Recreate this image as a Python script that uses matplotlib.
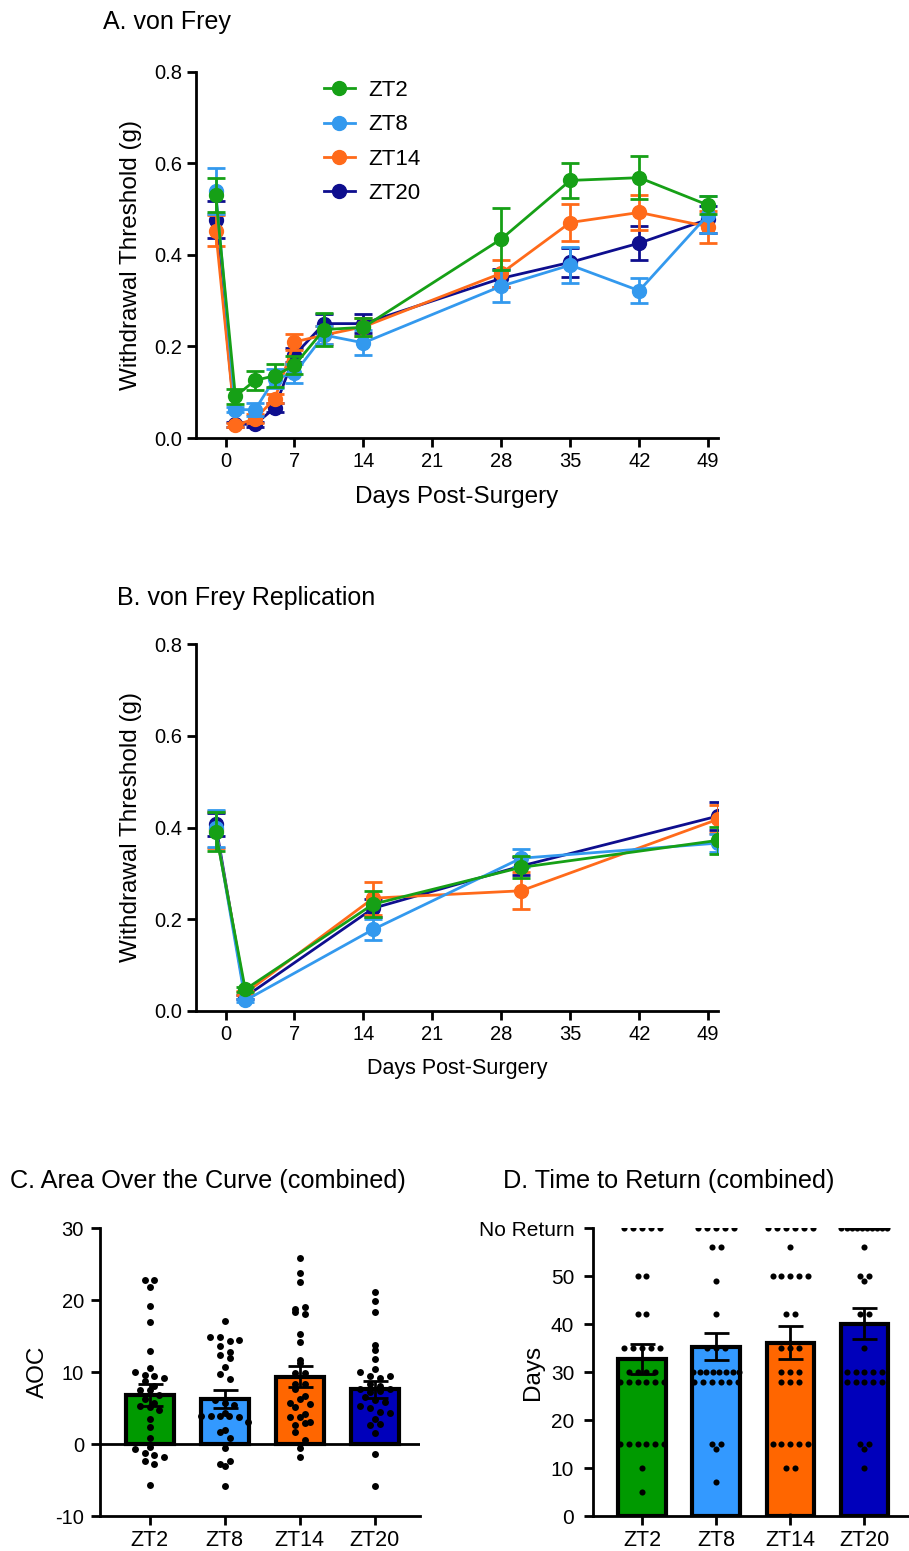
import numpy as np
import matplotlib
matplotlib.use("Agg")
import matplotlib.pyplot as plt

plt.rcParams['font.family'] = ['Liberation Sans', 'DejaVu Sans']
plt.rcParams['axes.unicode_minus'] = False

groups = ['ZT2', 'ZT8', 'ZT14', 'ZT20']
line_colors = ['#16A016', '#3399EE', '#FF6A1A', '#0E0E8E']
bar_colors = ['#009A00', '#3399FF', '#FF6600', '#0000BB']

# A. von Frey (mean, sem)
days_a = [-1, 1, 3, 5, 7, 10, 14, 28, 35, 42, 49]
zt2_a = [0.531, 0.091, 0.126, 0.136, 0.159, 0.237, 0.242, 0.435, 0.563, 0.569, 0.509]
zt2_a_sem = [0.038, 0.016, 0.020, 0.025, 0.020, 0.036, 0.020, 0.068, 0.039, 0.047, 0.020]
zt8_a = [0.540, 0.062, 0.062, 0.130, 0.141, 0.225, 0.208, 0.332, 0.378, 0.322, 0.488]
zt8_a_sem = [0.050, 0.006, 0.015, 0.020, 0.020, 0.020, 0.027, 0.035, 0.040, 0.027, 0.040]
zt14_a = [0.453, 0.028, 0.042, 0.086, 0.210, 0.225, 0.243, 0.360, 0.471, 0.493, 0.462]
zt14_a_sem = [0.034, 0.005, 0.010, 0.010, 0.018, 0.020, 0.020, 0.030, 0.040, 0.038, 0.035]
zt20_a = [0.477, 0.030, 0.030, 0.066, 0.181, 0.250, 0.250, 0.349, 0.384, 0.426, 0.478]
zt20_a_sem = [0.040, 0.005, 0.006, 0.010, 0.015, 0.020, 0.020, 0.020, 0.032, 0.037, 0.030]

# B. von Frey Replication
days_b = [-1, 2, 15, 30, 50]
zt2_b = [0.391, 0.047, 0.233, 0.313, 0.372]
zt2_b_sem = [0.042, 0.005, 0.028, 0.024, 0.030]
zt8_b = [0.398, 0.023, 0.178, 0.333, 0.366]
zt8_b_sem = [0.040, 0.004, 0.023, 0.020, 0.020]
zt14_b = [0.395, 0.039, 0.246, 0.262, 0.418]
zt14_b_sem = [0.040, 0.004, 0.036, 0.040, 0.030]
zt20_b = [0.407, 0.031, 0.224, 0.316, 0.425]
zt20_b_sem = [0.025, 0.004, 0.020, 0.020, 0.030]

# C. Area over the curve
aoc_mean = [6.8, 6.2, 9.35, 7.6]
aoc_sem = [1.55, 1.25, 1.5, 1.2]
aoc_zt2 = [22.8, 22.8, 21.8, 19.1, 16.9, 12.9, 10.6, 10.0, 9.6, 9.5, 9.1, 8.7, 8.0, 7.5,
           7.5, 6.8, 6.3, 5.7, 5.3, 5.1, 4.7, 3.5, 2.4, 0.8, -0.4, -0.7, -1.3, -1.5,
           -1.8, -2.3, -2.8, -5.7]
aoc_zt8 = [17.1, 14.8, 14.8, 14.3, 14.4, 13.6, 12.8, 12.4, 11.9, 10.7, 9.7, 9.0, 6.1,
           5.7, 5.4, 3.9, 3.9, 4.3, 3.9, 3.9, 3.8, 3.1, 1.9, 1.6, 0.8, -0.5, -2.8, -3.1,
           -2.3, -5.8]
aoc_zt14 = [25.9, 23.7, 22.5, 18.8, 18.4, 19.0, 18.0, 15.3, 14.1, 11.7, 11.3, 9.9, 9.9,
            8.3, 8.3, 7.6, 6.7, 5.7, 6.2, 5.6, 5.2, 3.7, 3.7, 4.2, 3.1, 2.6, 2.9, 1.6,
            0.6, -0.6, -1.8]
aoc_zt20 = [21.1, 19.8, 18.4, 13.8, 13.1, 11.8, 10.4, 10.0, 9.4, 9.2, 9.4, 8.3, 8.0, 7.6,
            7.2, 7.3, 7.6, 6.5, 6.1, 5.8, 5.3, 5.0, 4.5, 4.3, 3.5, 2.6, 2.8, 1.5, -1.4,
            -5.8]

# D. Time to return (60 = No Return)
ret_mean = [32.7, 35.3, 36.1, 40.1]
ret_sem = [3.1, 2.8, 3.4, 3.3]
ret_zt2 = [60] * 5 + [50] * 2 + [42] * 2 + [35] * 5 + [30] * 4 + [28] * 6 + [15] * 6 + [10, 5]
ret_zt8 = [60] * 5 + [56] * 2 + [49, 42] + [35] * 3 + [30] * 8 + [28] * 6 + [15] * 2 + [14, 7]
ret_zt14 = [60] * 6 + [56] + [50] * 5 + [42] * 2 + [35] * 3 + [30] * 3 + [28] * 3 + [15] * 5 + [10] * 2 + [0]
ret_zt20 = [60] * 10 + [56] + [50] * 2 + [49] + [42] * 2 + [35] + [30] * 5 + [28] * 5 + [15] * 2 + [14, 10]


def swarm_x(values, center, bin_size, step, max_width):
    values = np.asarray(values, dtype=float)
    xs = np.full(len(values), float(center))
    bins = np.floor(values / bin_size + 0.5)
    for b in np.unique(bins):
        idx = np.where(bins == b)[0]
        n = len(idx)
        if n > 1:
            s = min(step, max_width / (n - 1))
            xs[idx] = center + (np.arange(n) - (n - 1) / 2) * s
    return xs


def style_axes(ax):
    for side in ['top', 'right']:
        ax.spines[side].set_visible(False)
    for side in ['left', 'bottom']:
        ax.spines[side].set_linewidth(2.0)
    ax.tick_params(width=2.0, length=6.5, labelsize=14, colors='black')


W, H = 909, 1551
fig = plt.figure(figsize=(W / 100, H / 100), dpi=100)


def rect(left, top, right, bottom):
    return [left / W, 1 - bottom / H, (right - left) / W, (bottom - top) / H]


def line_panel(ax, days, series, sems):
    handles = []
    order = [3, 2, 1, 0]
    for i in order:
        ax.errorbar(days, series[i], yerr=sems[i], fmt='none', ecolor=line_colors[i],
                    elinewidth=2.0, capsize=6.5, capthick=2.0, zorder=2 + (3 - i))
        h, = ax.plot(days, series[i], '-o', color=line_colors[i], lw=2.0, ms=10,
                     zorder=2 + (3 - i), label=groups[i])
        handles.append(h)
    ax.set_xlim(-3, 50)
    ax.set_ylim(0, 0.8)
    ax.set_xticks([0, 7, 14, 21, 28, 35, 42, 49])
    ax.set_yticks([0.0, 0.2, 0.4, 0.6, 0.8])
    ax.set_yticklabels(['0.0', '0.2', '0.4', '0.6', '0.8'])
    ax.set_ylabel('Withdrawal Threshold (g)', fontsize=17.5)
    ax.yaxis.set_label_coords(-0.103, 0.5)
    style_axes(ax)
    ax.tick_params(labelsize=14.5)
    return handles[::-1]


# Panel A
ax_a = fig.add_axes(rect(196, 72, 718, 438))
hs = line_panel(ax_a, days_a, [zt2_a, zt8_a, zt14_a, zt20_a],
                [zt2_a_sem, zt8_a_sem, zt14_a_sem, zt20_a_sem])
ax_a.set_xlabel('Days Post-Surgery', fontsize=17.5)
ax_a.xaxis.set_label_coords(0.5, -0.13)
ax_a.legend(handles=hs, loc='upper left', bbox_to_anchor=(0.245, 0.978), frameon=False,
            fontsize=16, handlelength=1.4, handletextpad=0.6, labelspacing=0.6,
            borderpad=0, borderaxespad=0)
fig.text(103 / W, 1 - 22 / H, 'A. von Frey', fontsize=18, va='center', ha='left')

# Panel B
ax_b = fig.add_axes(rect(196, 644, 718, 1011))
line_panel(ax_b, days_b, [zt2_b, zt8_b, zt14_b, zt20_b],
           [zt2_b_sem, zt8_b_sem, zt14_b_sem, zt20_b_sem])
ax_b.set_xlabel('Days Post-Surgery', fontsize=15.5)
ax_b.xaxis.set_label_coords(0.5, -0.128)
fig.text(117 / W, 1 - 598 / H, 'B. von Frey Replication', fontsize=18, va='center', ha='left')


def bar_panel(ax, means, sems, points, bin_size, step, ms):
    x = np.arange(len(groups))
    ax.bar(x, means, width=0.64, color=bar_colors, edgecolor='black', linewidth=3.0, zorder=2)
    for i, vals in enumerate(points):
        xs = swarm_x(vals, x[i], bin_size, step, 0.62)
        ax.plot(xs, vals, 'o', color='black', ms=ms, mew=0, zorder=3)
    ax.errorbar(x, means, yerr=sems, fmt='none', ecolor='black', elinewidth=2.0,
                capsize=9, capthick=2.0, zorder=4)
    ax.set_xticks(x)
    ax.set_xticklabels(groups)
    ax.set_xlim(-0.66, 3.6)
    style_axes(ax)
    ax.tick_params(axis='x', labelsize=15.5)
    ax.tick_params(axis='y', labelsize=14.5, pad=5)


# Panel C
ax_c = fig.add_axes(rect(100, 1228, 420, 1516))
ax_c.axhline(0, color='black', lw=2.0, zorder=1)
bar_panel(ax_c, aoc_mean, aoc_sem, [aoc_zt2, aoc_zt8, aoc_zt14, aoc_zt20], 1.2, 0.13, 5.0)
ax_c.set_ylim(-10, 30)
ax_c.set_yticks([-10, 0, 10, 20, 30])
ax_c.set_ylabel('AOC', fontsize=17.5)
ax_c.yaxis.set_label_coords(-0.16, 0.5)
fig.text(10 / W, 1 - 1181 / H, 'C. Area Over the Curve (combined)', fontsize=18.2,
         va='center', ha='left')

# Panel D
ax_d = fig.add_axes(rect(593, 1228, 909, 1516))
bar_panel(ax_d, ret_mean, ret_sem, [ret_zt2, ret_zt8, ret_zt14, ret_zt20], 1.0, 0.12, 4.4)
ax_d.set_ylim(0, 60)
ax_d.set_yticks([0, 10, 20, 30, 40, 50, 60])
ax_d.set_yticklabels(['0', '10', '20', '30', '40', '50', 'No Return'])
ax_d.tick_params(axis='y', labelsize=15, pad=7)
ax_d.set_ylabel('Days', fontsize=17.5)
ax_d.yaxis.set_label_coords(-0.155, 0.5)
fig.text(503 / W, 1 - 1181 / H, 'D. Time to Return (combined)', fontsize=18.2,
         va='center', ha='left')

fig.savefig('out.png', dpi=100)
